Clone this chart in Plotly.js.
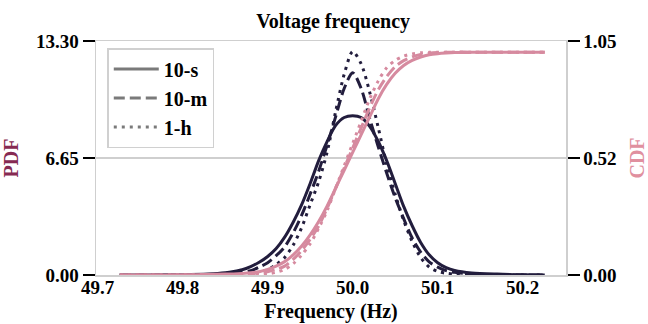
<!DOCTYPE html>
<html>
<head>
<meta charset="utf-8">
<script src="https://cdn.plot.ly/plotly-3.0.1.min.js"></script>
<style>html,body{margin:0;padding:0;background:#fff;}#chart{width:648px;height:324px;}</style>
</head>
<body>
<div id="chart"></div>
<script>
// Frequency grid (Hz)
const freq = [49.726, 49.76, 49.80, 49.83, 49.85, 49.86, 49.87, 49.88, 49.89, 49.90,
  49.91, 49.92, 49.93, 49.94, 49.95, 49.96, 49.97, 49.98, 49.99, 50.00,
  50.01, 50.02, 50.03, 50.04, 50.05, 50.06, 50.07, 50.08, 50.09, 50.10,
  50.11, 50.12, 50.14, 50.17, 50.20, 50.226];

// PDF values (left axis)
const pdf10s = [0, 0.005, 0.02, 0.06, 0.13, 0.2, 0.3, 0.48, 0.72, 1.05,
  1.5, 2.15, 3.0, 4.0, 5.2, 6.5, 7.6, 8.5, 8.95, 9.05,
  8.95, 8.45, 7.6, 6.5, 5.2, 3.9, 2.8, 1.85, 1.15, 0.7,
  0.42, 0.26, 0.12, 0.05, 0.015, 0];
const pdf10m = [0, 0.002, 0.01, 0.03, 0.06, 0.1, 0.16, 0.25, 0.45, 0.7,
  1.1, 1.6, 2.4, 3.4, 4.6, 5.9, 7.4, 9.0, 10.6, 11.5,
  10.6, 8.9, 7.3, 5.8, 4.4, 3.2, 2.1, 1.3, 0.75, 0.45,
  0.25, 0.15, 0.06, 0.02, 0.005, 0];
const pdf1h = [0, 0, 0.002, 0.01, 0.02, 0.03, 0.05, 0.09, 0.17, 0.3,
  0.6, 1.0, 1.7, 2.7, 4.0, 5.3, 7.0, 9.3, 11.4, 12.7,
  12.0, 10.4, 8.4, 6.3, 4.6, 3.1, 1.9, 1.0, 0.45, 0.2,
  0.1, 0.05, 0.02, 0.005, 0, 0];

// CDF values (right axis)
const cdf10s = [0, 0, 0.001, 0.002, 0.004, 0.005, 0.007, 0.01, 0.015, 0.025,
  0.04, 0.06, 0.09, 0.13, 0.18, 0.24, 0.31, 0.39, 0.47, 0.55,
  0.63, 0.71, 0.79, 0.855, 0.905, 0.94, 0.963, 0.978, 0.988, 0.993,
  0.996, 0.998, 0.999, 1.0, 1.0, 1.0];
const cdf10m = [0, 0, 0, 0.001, 0.002, 0.002, 0.003, 0.005, 0.01, 0.015,
  0.025, 0.04, 0.07, 0.11, 0.16, 0.22, 0.30, 0.39, 0.48, 0.57,
  0.66, 0.75, 0.83, 0.89, 0.935, 0.962, 0.979, 0.989, 0.995, 0.998,
  0.999, 1.0, 1.0, 1.0, 1.0, 1.0];
const cdf1h = [0, 0, 0, 0, 0, 0, 0.001, 0.002, 0.003, 0.005,
  0.012, 0.025, 0.05, 0.09, 0.14, 0.21, 0.29, 0.39, 0.49, 0.59,
  0.69, 0.79, 0.87, 0.93, 0.963, 0.982, 0.992, 0.997, 0.999, 1.0,
  1.0, 1.0, 1.0, 1.0, 1.0, 1.0];

const seriesNames = ['10-s', '10-m', '1-h'];
const xTicks = [49.7, 49.8, 49.9, 50.0, 50.1, 50.2];
const pdfTicks = [0, 6.65, 13.30];
const cdfTicks = [0, 0.525, 1.05];
const cdfTickText = ['0.00', '0.52', '1.05'];

const pdfColor = '#221d3d';
const cdfColor = '#d68a9f';
const dashes = ['solid', '11px,5px', '3px,5px'];
const pdfs = [pdf10s, pdf10m, pdf1h];
const cdfs = [cdf10s, cdf10m, cdf1h];

const FONT = 'Liberation Serif, Times New Roman, serif';
const traces = [];
for (let i = 0; i < 3; i++) {
  traces.push({x: freq, y: cdfs[i], yaxis: 'y2', type: 'scatter', mode: 'lines',
    line: {color: cdfColor, width: 3, dash: dashes[i], shape: 'spline', smoothing: 0.8},
    showlegend: false, hoverinfo: 'skip'});
}
for (let i = 0; i < 3; i++) {
  traces.push({x: freq, y: pdfs[i], type: 'scatter', mode: 'lines',
    line: {color: pdfColor, width: 3, dash: dashes[i], shape: 'spline', smoothing: 0.8},
    showlegend: false, hoverinfo: 'skip'});
}
for (let i = 0; i < 3; i++) {
  traces.push({x: [null], y: [null], type: 'scatter', mode: 'lines', name: seriesNames[i],
    line: {color: '#7a7a7a', width: 3, dash: dashes[i]}, showlegend: true});
}

const tickFont = {family: FONT, size: 19, color: '#000', weight: 'bold'};
const layout = {
  width: 648, height: 324,
  margin: {l: 96, r: 82, t: 41, b: 49},
  paper_bgcolor: '#fff', plot_bgcolor: '#fff',
  font: {family: FONT, size: 19, color: '#000'},
  title: {text: 'Voltage frequency', x: 0.514, xanchor: 'center', y: 0.935, yanchor: 'middle',
    font: {family: FONT, size: 20, color: '#000', weight: 'bold'}},
  xaxis: {range: [49.698, 50.251], tickvals: xTicks, tickformat: '.1f', ticks: '',
    ticklabelstandoff: -5,
    showgrid: false, zeroline: false, showline: true, mirror: true, linecolor: '#cfcfcf', linewidth: 1.5,
    tickfont: tickFont,
    title: {text: 'Frequency (Hz)', standoff: 6, font: {family: FONT, size: 20, color: '#000', weight: 'bold'}}},
  yaxis: {range: [0, 13.30], tickvals: pdfTicks, tickformat: '.2f', ticks: 'outside', ticklen: 12, tickwidth: 2.5,
    tickcolor: '#000', showgrid: true, gridcolor: '#cfcfcf', gridwidth: 1.5, zeroline: false,
    showline: true, linecolor: '#cfcfcf', linewidth: 1.5, tickfont: tickFont,
    title: {text: 'PDF', standoff: 12, font: {family: FONT, size: 20, color: '#862a52', weight: 'bold'}}},
  yaxis2: {range: [0, 1.05], overlaying: 'y', side: 'right', tickvals: cdfTicks, ticktext: cdfTickText,
    ticks: 'outside', ticklen: 12, tickwidth: 2.5, tickcolor: '#000', showgrid: false, zeroline: false,
    showline: true, linecolor: '#cfcfcf', linewidth: 1.5, tickfont: tickFont,
    title: {text: 'CDF', standoff: 14, font: {family: FONT, size: 20, color: '#e0909f', weight: 'bold'}}},
  legend: {x: 0.024, y: 0.97, xanchor: 'left', yanchor: 'top', bgcolor: '#fff', itemwidth: 45,
    bordercolor: '#d0d0d0', borderwidth: 1.5, font: {family: FONT, size: 20, color: '#000', weight: 'bold'},
    tracegroupgap: 0},
  showlegend: true
};
Plotly.newPlot('chart', traces, layout, {staticPlot: true, displayModeBar: false});
</script>
</body>
</html>
